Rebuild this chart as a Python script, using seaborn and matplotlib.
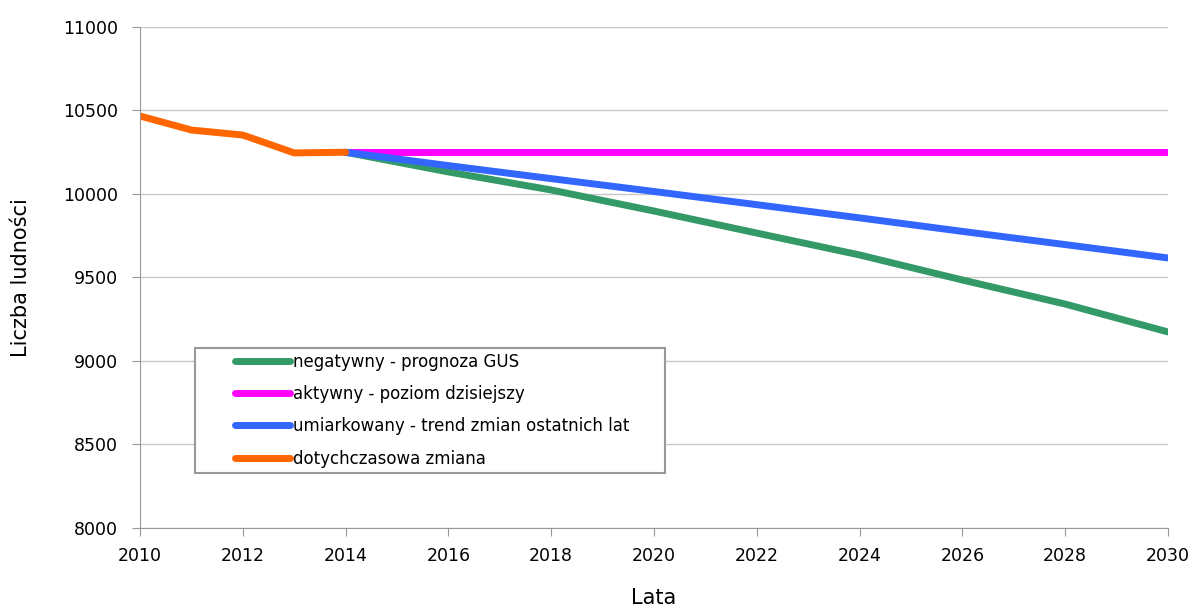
import pandas as pd
import numpy as np
import seaborn as sns
from matplotlib import pyplot as plt
from matplotlib.patches import Rectangle

# lata i wartosci
lata_hist = [2010, 2011, 2012, 2013, 2014]
dotychczasowa = [10467, 10383, 10353, 10246, 10250]

lata_prog = [2014, 2016, 2018, 2020, 2022, 2024, 2026, 2028, 2030]
negatywny = [10250, 10132, 10024, 9898, 9766, 9635, 9485, 9341, 9174]
aktywny = [10250, 10250, 10250, 10250, 10250, 10250, 10250, 10250, 10250]
umiarkowany = [10250, 10170, 10092, 10015, 9936, 9857, 9776, 9697, 9617]

nazwy = ["negatywny - prognoza GUS", "aktywny - poziom dzisiejszy",
         "umiarkowany - trend zmian ostatnich lat", "dotychczasowa zmiana"]
kolory = ["#339966", "#ff00ff", "#3366ff", "#ff6600"]

df = pd.concat([
    pd.DataFrame({"Lata": lata_prog, "Liczba": negatywny, "seria": nazwy[0]}),
    pd.DataFrame({"Lata": lata_prog, "Liczba": aktywny, "seria": nazwy[1]}),
    pd.DataFrame({"Lata": lata_prog, "Liczba": umiarkowany, "seria": nazwy[2]}),
    pd.DataFrame({"Lata": lata_hist, "Liczba": dotychczasowa, "seria": nazwy[3]}),
])

sns.set_style("white")
plt.rcParams['font.family'] = ['DejaVu Sans']
plt.rcParams['text.color'] = 'black'
plt.rcParams['axes.labelcolor'] = 'black'

fig, ax = plt.subplots(figsize=(11.93, 6.08), dpi=100)
fig.subplots_adjust(left=0.1174, right=0.979, top=0.9556, bottom=0.1316)

sns.lineplot(data=df, x="Lata", y="Liczba", hue="seria", hue_order=nazwy,
             palette=dict(zip(nazwy, kolory)), linewidth=5, ax=ax,
             solid_capstyle="round", solid_joinstyle="round")

ax.set_xlim(2010, 2030)
ax.set_ylim(8000, 11000)
ax.set_xticks(range(2010, 2031, 2))
ax.set_yticks(range(8000, 11001, 500))
ax.yaxis.grid(True, color="#c8c8c8", linewidth=1)
ax.set_axisbelow(True)
for s in ["top", "right"]:
    ax.spines[s].set_visible(False)
for s in ["left", "bottom"]:
    ax.spines[s].set_color("#999999")
ax.tick_params(axis="both", labelsize=12.5, length=6, color="#999999",
               labelcolor="black", direction="out")
ax.tick_params(axis="y", left=True, pad=10)
ax.tick_params(axis="x", bottom=True, pad=8)
ax.set_xlabel("Lata", fontsize=15, labelpad=16)
ax.set_ylabel("Liczba ludności", fontsize=15, labelpad=23)

# ramka legendy rysowana osobno (szersza niz tresc)
ax.add_patch(Rectangle((0.0535, 0.1098), 0.457, 0.2495, transform=ax.transAxes,
                       facecolor="white", edgecolor="#999999", linewidth=1.5,
                       zorder=5))
leg = ax.legend(loc="center left", bbox_to_anchor=(0.0924, 0.2355), fontsize=12,
                frameon=False, handlelength=3.3, handletextpad=0.2,
                borderpad=0, labelspacing=0.86, borderaxespad=0)
leg.set_zorder(6)
for l in leg.get_lines():
    l.set_linewidth(5)

plt.savefig("out.png", dpi=100)
